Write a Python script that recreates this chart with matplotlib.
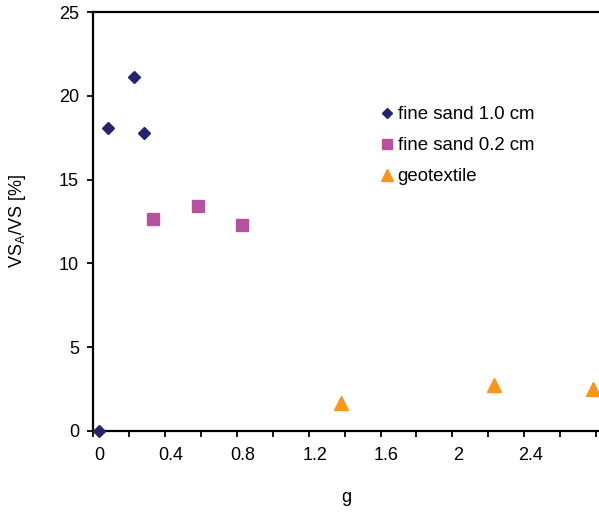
import matplotlib
matplotlib.use("Agg")
import matplotlib.pyplot as plt
import numpy as np

plt.rcParams['font.family'] = ['Liberation Sans', 'DejaVu Sans']
plt.rcParams['mathtext.default'] = 'regular'

# data
sand10_x = [0.0, 0.047, 0.195, 0.247]
sand10_y = [0.0, 18.08, 21.15, 17.78]
sand02_x = [0.297, 0.548, 0.797]
sand02_y = [12.65, 13.44, 12.29]
geo_x = [1.348, 2.199, 2.749]
geo_y = [1.68, 2.75, 2.48]
labels = ["fine sand 1.0 cm", "fine sand 0.2 cm", "geotextile"]
xtick_labels = [0, 0.4, 0.8, 1.2, 1.6, 2, 2.4]
yticks = [0, 5, 10, 15, 20, 25]

W, H = 599, 514
fig = plt.figure(figsize=(W/100, H/100), dpi=100)
ax_l, ax_r = 93.3, 599.0
ax_t, ax_b = 12.3, 430.7
ax = fig.add_axes([ax_l/W, 1 - ax_b/H, (ax_r-ax_l)/W, (ax_b-ax_t)/H])

ax.plot(sand10_x, sand10_y, linestyle='none', marker='D', ms=6.2, color='#24246E', label=labels[0], clip_on=False, zorder=5)
ax.plot(sand02_x, sand02_y, linestyle='none', marker='s', ms=8.8, color='#B452A0', label=labels[1], clip_on=False, zorder=5)
ax.plot(geo_x, geo_y, linestyle='none', marker='^', ms=9.4, color='#F7961E', label=labels[2], clip_on=False, zorder=5)

x0 = -0.0334
x1 = x0 + (ax_r - ax_l) / 179.5
ax.set_xlim(x0, x1)
ax.set_ylim(0, 25)

# tick marks (major) at axis-origin-based steps; labels on minor ticks at values
ax.set_xticks([x0 + 0.2*k for k in range(15)])
ax.set_xticklabels([])
ax.set_xticks(xtick_labels, minor=True)
ax.set_xticklabels([str(v) for v in xtick_labels], minor=True)
ax.tick_params(axis='x', which='major', direction='out', length=4, width=1.3, color='black')
ax.tick_params(axis='x', which='minor', length=0, pad=12, labelsize=13)

ax.set_yticks(yticks)
ax.set_yticklabels([str(v) for v in yticks])
ax.tick_params(axis='y', which='major', direction='out', length=4.3, width=1.3, pad=6, labelsize=13)

for s in ['left', 'bottom', 'top']:
    ax.spines[s].set_linewidth(1.6)
    ax.spines[s].set_color('black')
ax.spines['right'].set_visible(False)

ax.set_ylabel('VS$_{A}$/VS [%]', fontsize=13)
ax.yaxis.set_label_coords((18 - ax_l)/(ax_r-ax_l), 0.5)
ax.yaxis.label.set_va('center')
ax.set_xlabel('g', fontsize=13)
ax.xaxis.set_label_coords(0.5, -(497 - ax_b)/(ax_b-ax_t))
ax.xaxis.label.set_va('center')

leg = ax.legend(loc='upper left', bbox_to_anchor=(381/W, 1 - 106/H), bbox_transform=fig.transFigure,
                frameon=False, fontsize=13.4, borderpad=0, borderaxespad=0, handlelength=0.6,
                handletextpad=0.29, labelspacing=0.76, numpoints=1, markerscale=0.85)

fig.savefig('out.png', dpi=100)
